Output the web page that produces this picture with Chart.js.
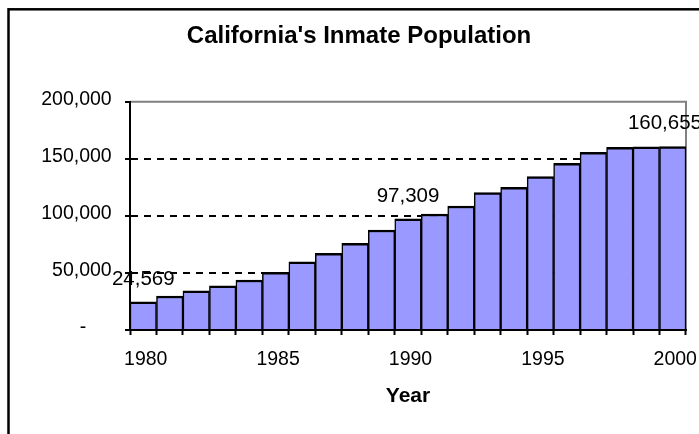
<!DOCTYPE html>
<html>
<head>
<meta charset="utf-8">
<script src="https://cdn.jsdelivr.net/npm/chart.js@4"></script>
<style>
  body { margin: 0; background: #fff; }
  canvas { display: block; }
</style>
</head>
<body>
<canvas id="inmateChart" width="699" height="434"></canvas>
<script>
const years = ['1980', '1981', '1982', '1983', '1984', '1985', '1986', '1987', '1988', '1989', '1990',
               '1991', '1992', '1993', '1994', '1995', '1996', '1997', '1998', '1999', '2000'];
const inmates = [24569, 29800, 34400, 38800, 43800, 50500, 59800, 67200, 75900, 87600, 97309,
                 101600, 108600, 120300, 125000, 134300, 146000, 155700, 160000, 160500, 160655];
const labelledYears = ['1980', '1985', '1990', '1995', '2000'];
const yTickLabels = ['-    \u2009', '50,000', '100,000', '150,000', '200,000'];
const labelledBars = [0, 10, 20];

const FONT = 'Liberation Sans, Arial, sans-serif';

// frame, plot border, title and the three value labels
const decorations = {
    id: 'decorations',
    beforeDraw(chart) {
        const ctx = chart.ctx;
        ctx.save();
        ctx.fillStyle = '#fff';
        ctx.fillRect(0, 0, chart.width, chart.height);
        ctx.restore();
    },
    beforeDatasetsDraw(chart) {
        const {ctx, chartArea} = chart;
        ctx.save();
        ctx.strokeStyle = '#808080';
        ctx.lineWidth = 2;
        ctx.beginPath();
        ctx.moveTo(chartArea.left, chartArea.top);
        ctx.lineTo(chartArea.right, chartArea.top);
        ctx.lineTo(chartArea.right, chartArea.bottom);
        ctx.stroke();
        ctx.restore();
    },
    afterDatasetsDraw(chart) {
        const ctx = chart.ctx;
        const meta = chart.getDatasetMeta(0);
        ctx.save();
        ctx.font = '20.5px ' + FONT;
        ctx.fillStyle = '#000';
        ctx.textAlign = 'center';
        ctx.textBaseline = 'middle';
        labelledBars.forEach(i => {
            const bar = meta.data[i];
            const text = inmates[i].toLocaleString('en-US');
            const w = ctx.measureText(text).width;
            const x = Math.min(bar.x, chart.width + 3 - w / 2);
            ctx.fillText(text, x, bar.y - 23);
        });
        ctx.restore();
    },
    afterDraw(chart) {
        const ctx = chart.ctx;
        ctx.save();
        ctx.strokeStyle = '#000';
        ctx.lineWidth = 2.5;
        ctx.strokeRect(8.5, 9.3, 1000, 1000);
        ctx.font = 'bold 24px ' + FONT;
        ctx.fillStyle = '#000';
        ctx.textAlign = 'center';
        ctx.textBaseline = 'middle';
        ctx.fillText("California's Inmate Population", 359, 36);
        ctx.restore();
    }
};

const chart = new Chart(document.getElementById('inmateChart'), {
    type: 'bar',
    data: {
        labels: years,
        datasets: [{
            data: inmates,
            backgroundColor: '#9999ff',
            borderColor: '#000',
            borderWidth: {top: 2.5, left: 1.5, right: 1.5, bottom: 0},
            borderSkipped: 'start',
            barPercentage: 1,
            categoryPercentage: 1
        }]
    },
    options: {
        responsive: false,
        animation: false,
        layout: {
            padding: {left: 0, right: 13, top: 101.7, bottom: 0}
        },
        plugins: {
            legend: { display: false },
            title: { display: false },
            tooltip: { enabled: false }
        },
        scales: {
            x: {
                afterFit(scale) {
                    scale.height = 104;
                    scale.paddingLeft = 0;
                    scale.paddingRight = 0;
                },
                grid: {
                    offset: true,
                    drawOnChartArea: false,
                    drawTicks: true,
                    tickLength: 5,
                    tickWidth: 2,
                    tickColor: '#000'
                },
                border: { display: true, color: '#000', width: 2, z: 1 },
                ticks: {
                    autoSkip: false,
                    maxRotation: 0,
                    padding: 13.3,
                    labelOffset: 2.5,
                    color: '#000',
                    font: { family: FONT, size: 19.5 },
                    callback(value, index) {
                        const y = years[index];
                        return labelledYears.includes(y) ? y : '';
                    }
                },
                title: {
                    display: true,
                    text: 'Year',
                    color: '#000',
                    font: { family: FONT, size: 21, weight: 'bold' },
                    padding: { top: 0, bottom: 25.5 }
                }
            },
            y: {
                min: 0,
                max: 200000,
                afterFit(scale) { scale.width = 130; },
                grid: {
                    lineWidth: 2,
                    color(ctx) {
                        const v = ctx.tick ? ctx.tick.value : 0;
                        return (v === 0 || v === 200000) ? 'rgba(0,0,0,0)' : '#000';
                    },
                    tickLength: 5,
                    tickWidth: 2,
                    tickColor: '#000'
                },
                border: { display: true, color: '#000', width: 2, dash: [7, 6], z: 1 },
                ticks: {
                    stepSize: 50000,
                    padding: 13.3,
                    labelOffset: -2,
                    color: '#000',
                    font: { family: FONT, size: 19.5 },
                    callback(value, index) {
                        return yTickLabels[index];
                    }
                }
            }
        }
    },
    plugins: [decorations]
});
</script>
</body>
</html>
